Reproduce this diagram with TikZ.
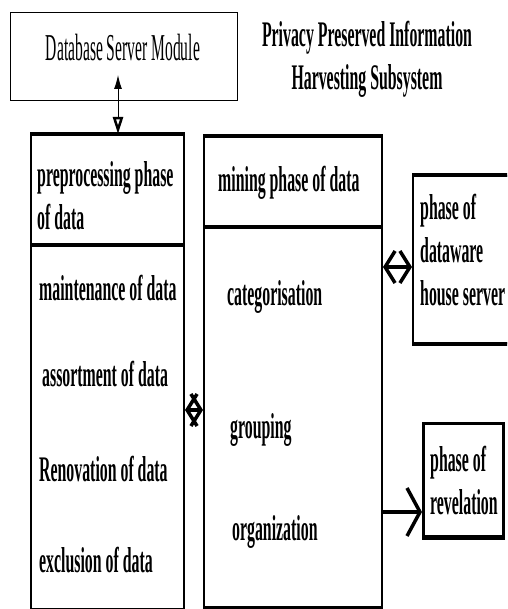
\documentclass[tikz,border=0pt]{standalone}
\usepackage{fontspec}
\setmainfont{Liberation Serif}[FakeStretch=0.44]
\newfontfamily\modfont{Liberation Serif}[FakeStretch=0.41]
\usetikzlibrary{arrows.meta,calc,positioning}

\begin{document}
\begin{tikzpicture}[x=1pt,y=-1pt]
\tikzset{
	phase box/.style = {draw, line width=2pt, anchor=north west, inner sep=0},
	heavy rule/.style = {line width=4.5pt},
	phase text/.style = {anchor=west, align=left, inner sep=0, font=\fontsize{36}{43}\selectfont\bfseries},
	link/.style = {line width=3.5pt, {Straight Barb[length=10pt,width=32pt]}-{Straight Barb[length=10pt,width=32pt]}},
}
\clip (0,0) rectangle (507,609);

% database module and title
\node(db)[phase box, line width=1.2pt, minimum width=227pt, minimum height=88pt] at (10,12){};
\node(dbtext) at (123,48){\modfont\fontsize{38}{40}\selectfont Database Server Module};
\node(title)[align=center, inner sep=0, font=\fontsize{36}{43}\selectfont\bfseries] at (367,59)
	{Privacy Preserved Information\\Harvesting Subsystem};

% preprocessing phase
\node(prep)[phase box, minimum width=153pt, minimum height=474pt] at (30,134){};
\draw [heavy rule] (prep.north west) -- (prep.north east);
\draw [heavy rule] ($(prep.north west)+(0,111)$) -- ($(prep.north east)+(0,111)$);
\node(prephead)[phase text] at (37,196){preprocessing phase\\of data};
\node(maint)[phase text] at (39,288){maintenance of data};
\node(assort)[phase text] at (42,374){assortment of data};
\node(renov)[phase text] at (39,469){Renovation of data};
\node(excl)[phase text] at (39,560){exclusion of data};

% mining phase
\node(mine)[phase box, minimum width=178pt, minimum height=470pt] at (203,136){};
\draw [heavy rule] (mine.north west) -- (mine.north east);
\draw [heavy rule] ($(mine.north west)+(0,91)$) -- ($(mine.north east)+(0,91)$);
\draw [heavy rule] (mine.south west) -- (mine.south east);
\node(minehead)[phase text] at (218,183){mining phase of data};
\node(categ)[phase text] at (227,297){categorisation};
\node(group)[phase text] at (230,430){grouping};
\node(organ)[phase text] at (232,532){organization};

% dataware and revelation
\node(ware)[phase box, minimum width=100pt, minimum height=167pt] at (412,175){};
\draw [heavy rule] (ware.north west) -- (ware.north east);
\draw [heavy rule] (ware.south west) -- (ware.south east);
\node(waretext)[phase text] at (420,250){phase of\\dataware\\house server};
\node(rev)[phase box, line width=3pt, minimum width=80pt, minimum height=113pt] at (422,422){};
\draw [heavy rule] (rev.south west) -- (rev.south east);
\node(revtext)[phase text] at (430,480){phase of\\revelation};

% connectors
\coordinate(dbtip) at (118,75);
\draw [line width=1pt, {Latex[length=14pt,width=8pt]}-{Triangle[open,length=17pt,width=10pt,line width=2.5pt]}]
	(dbtip) -- (dbtip |- prep.north);
\draw [link] (prep.east |- 0,410) -- (mine.west |- 0,410);
\draw [link] (mine.east |- 0,267) -- (ware.west |- 0,267);
\draw [line width=3.5pt, -{Straight Barb[length=13pt,width=48pt]}] (mine.east |- 0,512) -- (rev.west |- 0,512);

\end{tikzpicture}
\end{document}
